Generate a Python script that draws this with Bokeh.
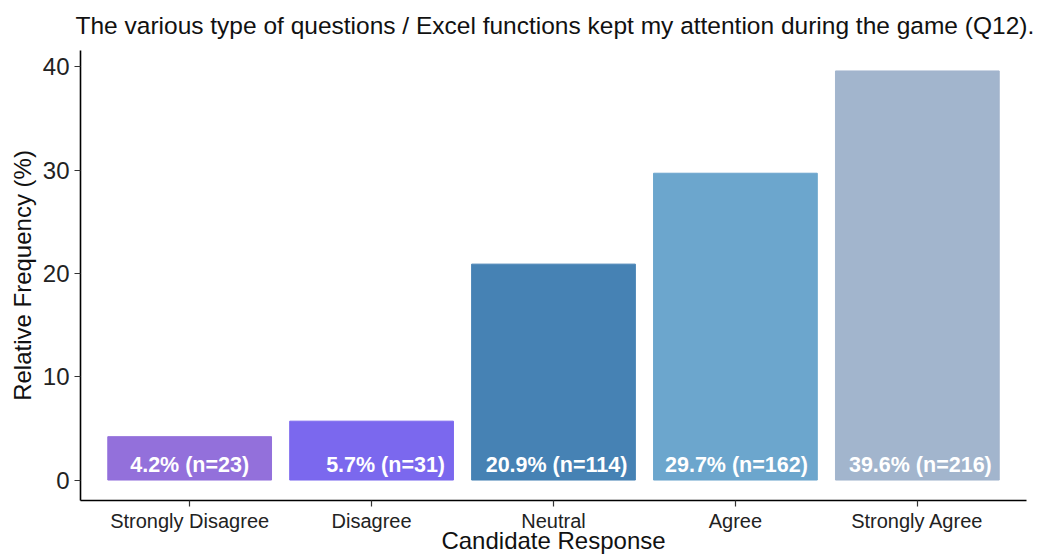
from bokeh.plotting import figure
from bokeh.models import Range1d, FixedTicker, ColumnDataSource
from bokeh.embed import file_html
from bokeh.resources import INLINE
from bokeh.core.properties import value

# ---- data ----
categories = ["Strongly Disagree", "Disagree", "Neutral", "Agree", "Strongly Agree"]
percent = [4.2, 5.7, 20.9, 29.7, 39.6]
counts = [23, 31, 114, 162, 216]
y_ticks = [0, 10, 20, 30, 40]
title_text = "The various type of questions / Excel functions kept my attention during the game (Q12)."
x_title = "Candidate Response"
y_title = "Relative Frequency (%)"

# ---- styles ----
bar_colors = ["#9370DB", "#7B68EE", "#4682B4", "#6CA6CD", "#A2B5CD"]
label_dx = [0, 14, 3, 1, 3]
LABEL_Y = 1.5
FONT = "Liberation Sans"

xs = list(range(1, len(categories) + 1))
labels = [f"{p}% (n={n})" for p, n in zip(percent, counts)]
src = ColumnDataSource(dict(x=xs, top=percent, color=bar_colors,
                            label=labels, dx=label_dx,
                            ly=[LABEL_Y] * len(xs)))

ymax = max(percent)
pad = 0.05 * ymax
p = figure(width=1043, height=556, output_backend="svg", toolbar_location=None,
           x_range=Range1d(0.4, len(categories) + 0.6),
           y_range=Range1d(-pad, ymax + pad),
           min_border_left=80, min_border_right=17, min_border_top=50,
           min_border_bottom=56)

p.title.text = title_text
p.title.text_font = FONT
p.title.text_font_size = "24.5px"
p.title.text_font_style = "normal"
p.title.text_color = "#111111"
p.title.vertical_align = "top"
p.title.offset = -5
p.title.standoff = 20

p.vbar(x="x", top="top", bottom=0, width=0.9, color="color", source=src)
p.text(x="x", y="ly", text="label", x_offset="dx", source=src,
       text_color="white", text_font=value(FONT), text_font_style="bold",
       text_font_size="21.5px", text_align="center", text_baseline="middle")

p.xgrid.visible = False
p.ygrid.visible = False
p.outline_line_color = None
p.background_fill_color = "white"
p.border_fill_color = "white"

xa = p.xaxis[0]
xa.ticker = FixedTicker(ticks=xs)
xa.major_label_overrides = {x: c for x, c in zip(xs, categories)}
xa.axis_label = x_title
ya = p.yaxis[0]
ya.ticker = FixedTicker(ticks=y_ticks)
ya.axis_label = y_title

for ax in (xa, ya):
    ax.axis_line_color = "black"
    ax.axis_line_width = 1.6
    ax.major_tick_line_color = "#333333"
    ax.major_tick_line_width = 1.2
    ax.major_tick_in = 0
    ax.major_tick_out = 6
    ax.minor_tick_line_color = None
    ax.major_label_text_font = FONT
    ax.major_label_text_color = "#222222"
    ax.axis_label_text_font = FONT
    ax.axis_label_text_font_style = "normal"
    ax.axis_label_text_color = "#111111"
    ax.axis_label_text_font_size = "24px"

xa.major_label_text_font_size = "20px"
xa.major_label_standoff = 3
xa.axis_label_standoff = -8
ya.major_label_text_font_size = "24px"
ya.major_label_standoff = 5
ya.axis_label_standoff = 4

open("out.html", "w").write(file_html(p, INLINE))
